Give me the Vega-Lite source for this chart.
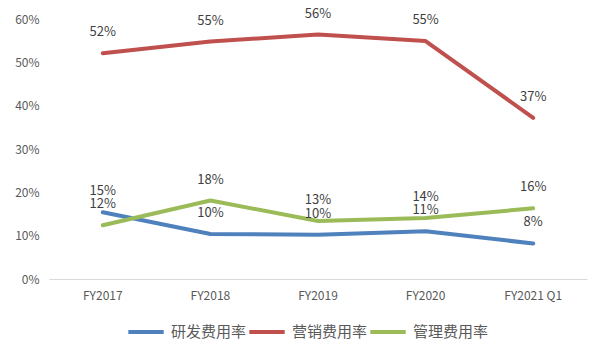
{
  "$schema": "https://vega.github.io/schema/vega-lite/v6.json",
  "width": 538,
  "height": 260,
  "autosize": {"type": "none"},
  "padding": {"left": 49, "top": 19, "right": 18, "bottom": 79},
  "background": "white",
  "config": {
    "font": "Noto Sans CJK SC",
    "view": {"stroke": null}
  },
  "data": {
    "values": [
      {"year": "FY2017", "series": "研发费用率", "value": 0.154},
      {"year": "FY2018", "series": "研发费用率", "value": 0.104},
      {"year": "FY2019", "series": "研发费用率", "value": 0.102},
      {"year": "FY2020", "series": "研发费用率", "value": 0.110},
      {"year": "FY2021 Q1", "series": "研发费用率", "value": 0.082},
      {"year": "FY2017", "series": "营销费用率", "value": 0.521},
      {"year": "FY2018", "series": "营销费用率", "value": 0.548},
      {"year": "FY2019", "series": "营销费用率", "value": 0.564},
      {"year": "FY2020", "series": "营销费用率", "value": 0.549},
      {"year": "FY2021 Q1", "series": "营销费用率", "value": 0.372},
      {"year": "FY2017", "series": "管理费用率", "value": 0.124},
      {"year": "FY2018", "series": "管理费用率", "value": 0.181},
      {"year": "FY2019", "series": "管理费用率", "value": 0.134},
      {"year": "FY2020", "series": "管理费用率", "value": 0.141},
      {"year": "FY2021 Q1", "series": "管理费用率", "value": 0.163}
    ]
  },
  "encoding": {
    "x": {
      "field": "year",
      "type": "nominal",
      "sort": null,
      "scale": {"type": "band", "paddingInner": 0, "paddingOuter": 0},
      "axis": {
        "title": null,
        "labelAngle": 0,
        "ticks": false,
        "tickSize": 0,
        "domainColor": "#D9D9D9",
        "domainWidth": 1,
        "labelColor": "#595959",
        "labelFontSize": 12,
        "labelPadding": 11,
        "grid": false
      }
    },
    "y": {
      "field": "value",
      "type": "quantitative",
      "scale": {"domain": [0, 0.6], "nice": false, "zero": true},
      "axis": {
        "title": null,
        "format": ".0%",
        "values": [0, 0.1, 0.2, 0.3, 0.4, 0.5, 0.6],
        "domain": false,
        "ticks": false,
        "tickSize": 0,
        "grid": false,
        "labelColor": "#595959",
        "labelFontSize": 12,
        "labelPadding": 10
      }
    }
  },
  "layer": [
    {
      "mark": {"type": "line", "strokeWidth": 4, "strokeCap": "round", "strokeJoin": "round"},
      "encoding": {
        "color": {
          "field": "series",
          "type": "nominal",
          "scale": {
            "domain": ["研发费用率", "营销费用率", "管理费用率"],
            "range": ["#4F81BD", "#C0504D", "#9BBB59"]
          },
          "legend": {
            "title": null,
            "orient": "none",
            "direction": "horizontal",
            "legendX": 77,
            "legendY": 293,
            "symbolType": "stroke",
            "symbolSize": 1250,
            "symbolStrokeWidth": 4,
            "labelFontSize": 15,
            "labelColor": "#595959",
            "labelOffset": 5,
            "columnPadding": -12
          }
        }
      }
    },
    {
      "mark": {"type": "text", "dy": -21, "fontSize": 13, "color": "#404040"},
      "encoding": {
        "text": {"field": "value", "type": "quantitative", "format": ".0%"}
      }
    }
  ]
}
